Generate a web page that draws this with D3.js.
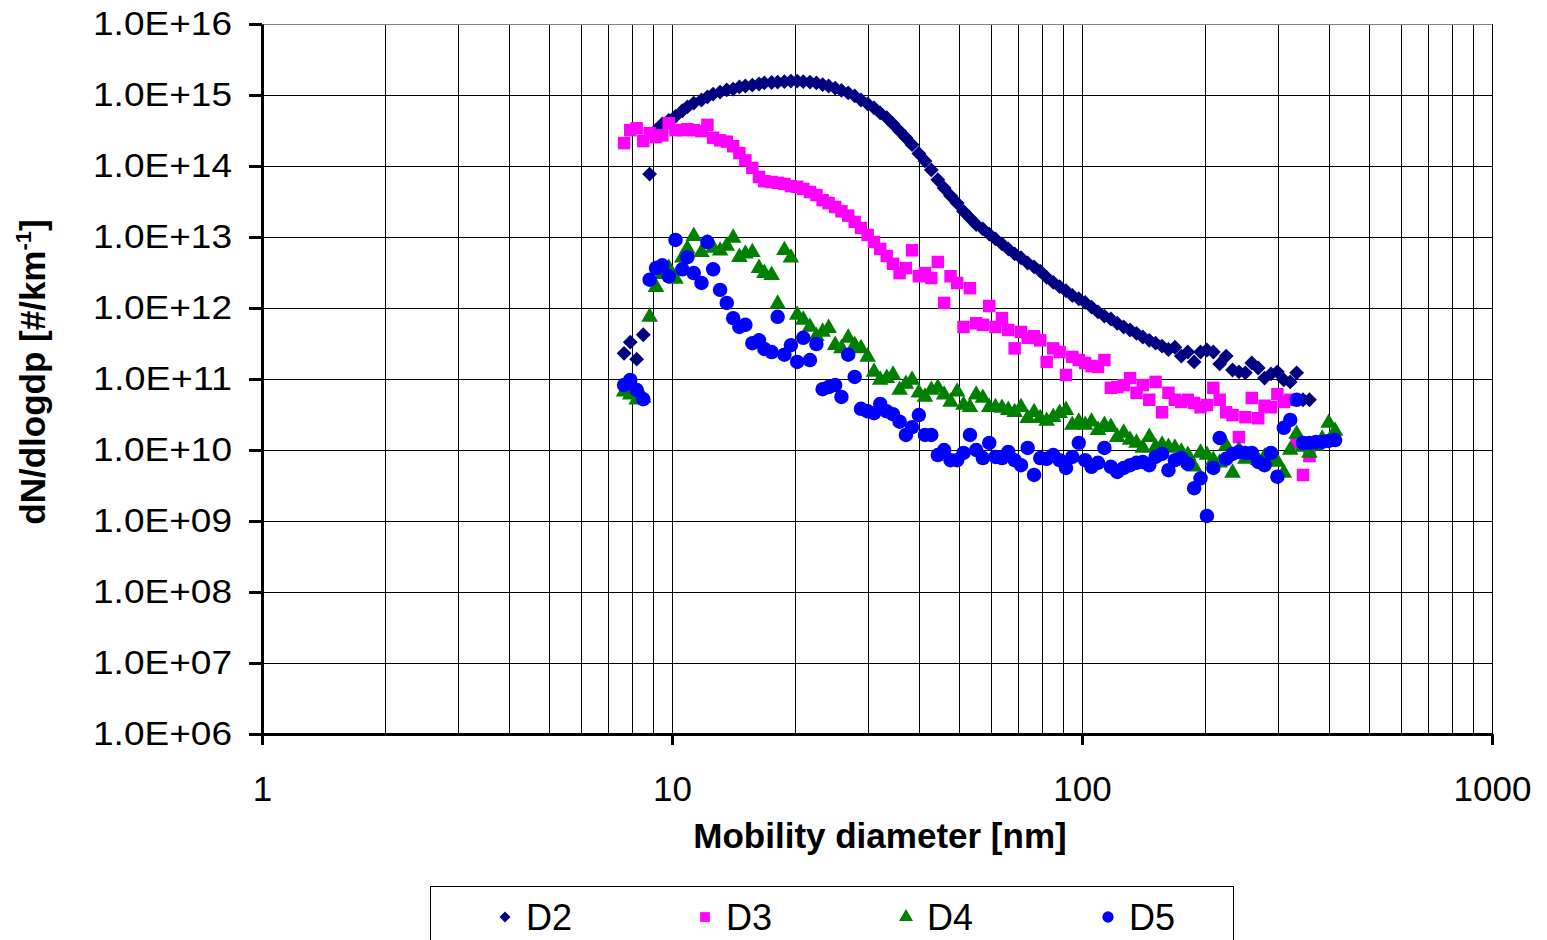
<!DOCTYPE html>
<html>
<head>
<meta charset="utf-8">
<script src="https://cdn.jsdelivr.net/npm/d3@7"></script>
<style>
  body { margin: 0; background: #fff; }
  text { font-family: "Liberation Sans", Arial, sans-serif; fill: #000; }
</style>
</head>
<body>
<svg id="chart" width="1547" height="940"></svg>
<script>
// SMPS channel mid-point diameters [nm]
var diameters = [
  7.64, 7.91, 8.2, 8.51, 8.82, 9.14, 9.47, 9.82, 10.2, 10.6,
  10.9, 11.3, 11.8, 12.2, 12.6, 13.1, 13.6, 14.1, 14.6, 15.1,
  15.7, 16.3, 16.8, 17.5, 18.1, 18.8, 19.5, 20.2, 20.9, 21.7,
  22.5, 23.3, 24.1, 25.0, 25.9, 26.9, 27.9, 28.9, 30.0, 31.1,
  32.2, 33.4, 34.6, 35.9, 37.2, 38.5, 40.0, 41.4, 42.9, 44.5,
  46.1, 47.8, 49.6, 51.4, 53.3, 55.2, 57.3, 59.4, 61.5, 63.8,
  66.1, 68.5, 71.0, 73.7, 76.4, 79.1, 82.0, 85.1, 88.2, 91.4,
  94.7, 98.2, 101.8, 105.5, 109.4, 113.4, 117.6, 121.9, 126.4, 131.0,
  135.8, 140.7, 145.9, 151.2, 156.8, 162.5, 168.5, 174.7, 181.1, 187.7,
  194.6, 201.7, 209.1, 216.7, 224.7, 232.9, 241.4, 250.3, 259.5, 269.0,
  278.8, 289.0, 299.6, 310.6, 322.0, 333.8, 346.0, 358.7, 371.8, 385.4,
  399.5, 414.2
];

var d2 = [
  2.3e11, 3.3e11, 1.9e11, 4.2e11, 7.7e13, 3.2e14, 3.9e14, 4.4e14, 5.0e14, 6.0e14,
  6.8e14, 7.7e14, 8.5e14, 9.4e14, 1.03e15, 1.1e15, 1.18e15, 1.21e15, 1.3e15, 1.34e15,
  1.38e15, 1.43e15, 1.48e15, 1.5e15, 1.52e15, 1.54e15, 1.57e15, 1.57e15, 1.54e15, 1.52e15,
  1.48e15, 1.4e15, 1.34e15, 1.25e15, 1.16e15, 1.07e15, 9.7e14, 8.5e14, 7.5e14, 6.6e14,
  5.6e14, 4.8e14, 3.9e14, 3.1e14, 2.5e14, 2.0e14, 1.5e14, 1.18e14, 8.8e13, 6.4e13,
  4.9e13, 3.8e13, 3.0e13, 2.3e13, 1.85e13, 1.5e13, 1.3e13, 1.1e13, 9.4e12, 8.0e12,
  6.8e12, 5.8e12, 5.1e12, 4.3e12, 3.8e12, 3.3e12, 2.7e12, 2.3e12, 2.0e12, 1.75e12,
  1.5e12, 1.35e12, 1.2e12, 1.03e12, 8.8e11, 7.7e11, 7.0e11, 6.1e11, 5.4e11, 4.9e11,
  4.4e11, 3.9e11, 3.5e11, 3.2e11, 2.9e11, 2.6e11, 2.8e11, 2.1e11, 2.4e11, 1.74e11,
  2.4e11, 2.56e11, 2.4e11, 1.63e11, 2.1e11, 1.34e11, 1.26e11, 1.22e11, 1.68e11, 1.43e11,
  1.03e11, 1.18e11, 1.26e11, 9.7e10, 9.1e10, 1.22e11, 5.1e10, 5.1e10
];

var d3v = [
  2.1e14, 3.2e14, 3.4e14, 2.25e14, 2.9e14, 2.56e14, 2.7e14, 4.0e14, 3.2e14, 3.2e14,
  3.3e14, 3.2e14, 3.1e14, 3.8e14, 2.5e14, 2.3e14, 2.2e14, 1.9e14, 1.52e14, 1.2e14,
  9.4e13, 7.0e13, 6.1e13, 5.95e13, 5.8e13, 5.6e13, 5.2e13, 5.1e13, 4.75e13, 4.3e13,
  3.9e13, 3.3e13, 3.0e13, 2.65e13, 2.3e13, 2.0e13, 1.63e13, 1.34e13, 1.07e13, 8.5e12,
  6.8e12, 5.4e12, 4.2e12, 3.1e12, 3.65e12, 6.5e12, 2.8e12, 3.1e12, 2.65e12, 4.45e12,
  1.18e12, 2.8e12, 2.25e12, 5.4e11, 1.9e12, 6.1e11, 5.8e11, 1.07e12, 5.4e11, 7.2e11,
  4.9e11, 2.7e11, 4.6e11, 3.8e11, 4.0e11, 3.5e11, 1.74e11, 2.7e11, 2.4e11, 1.14e11,
  2.05e11, 1.85e11, 1.68e11, 1.52e11, 1.48e11, 1.85e11, 7.5e10, 7.7e10, 8.2e10, 1.03e11,
  6.4e10, 8.2e10, 5.1e10, 9.1e10, 3.4e10, 6.4e10, 5.1e10, 4.75e10, 5.1e10, 4.6e10,
  4.0e10, 4.3e10, 7.5e10, 5.1e10, 3.4e10, 3.1e10, 1.52e10, 2.9e10, 5.4e10, 2.8e10,
  4.2e10, 4.0e10, 6.1e10, 4.75e10, 5.1e10, 1.26e10, 4.45e9, 8.2e9
];

var d4 = [
  6.6e10, 6.0e10, 5.1e10, 5.4e10, 7.5e11, 1.97e12, 3.0e12, 3.65e12, 2.56e12, 5.1e12,
  6.8e12, 1.03e13, 6.1e12, 8.2e12, 7.0e12, 6.4e12, 7.5e12, 9.7e12, 5.2e12, 5.8e12,
  6.1e12, 3.65e12, 3.1e12, 2.9e12, 1.14e12, 6.5e12, 5.1e12, 8.0e11, 6.8e11, 5.4e11,
  4.0e11, 4.6e11, 5.2e11, 3.0e11, 2.7e11, 3.8e11, 3.0e11, 2.7e11, 2.05e11, 1.26e11,
  9.7e10, 1.03e11, 1.14e11, 7.0e10, 8.5e10, 9.7e10, 6.4e10, 5.6e10, 7.0e10, 7.5e10,
  6.0e10, 4.75e10, 6.6e10, 4.3e10, 4.0e10, 6.0e10, 5.4e10, 4.0e10, 4.0e10, 3.9e10,
  3.65e10, 3.4e10, 4.0e10, 2.8e10, 3.4e10, 2.8e10, 2.56e10, 2.9e10, 3.3e10, 3.65e10,
  2.25e10, 2.5e10, 2.25e10, 2.5e10, 1.9e10, 2.25e10, 2.1e10, 1.52e10, 1.74e10, 1.38e10,
  1.26e10, 1.07e10, 1.52e10, 1.1e10, 1.18e10, 1.1e10, 1.07e10, 9.4e9, 8.5e9, 5.8e9,
  9.1e9, 8.5e9, 7.2e9, 6.6e9, 1.14e10, 4.75e9, 1.0e10, 7.5e9, 7.7e9, 7.2e9,
  8.0e9, 7.0e9, 6.8e9, 4.75e9, 1.0e10, 1.68e10, 1.1e10, 9.1e9, 1.14e10, 1.43e10,
  2.4e10, 1.85e10
];

var d5 = [
  8.2e10, 9.7e10, 7.0e10, 5.2e10, 2.5e12, 3.65e12, 4.0e12, 2.8e12, 9.1e12, 3.5e12,
  5.2e12, 3.1e12, 2.25e12, 8.5e12, 3.5e12, 1.8e12, 1.18e12, 7.2e11, 5.4e11, 5.8e11,
  3.2e11, 3.5e11, 2.65e11, 2.4e11, 7.5e11, 2.2e11, 3.0e11, 1.74e11, 3.8e11, 1.85e11,
  3.1e11, 7.2e10, 7.7e10, 8.2e10, 5.6e10, 2.2e11, 1.07e11, 3.8e10, 3.5e10, 3.3e10,
  4.45e10, 3.5e10, 3.2e10, 2.5e10, 1.63e10, 2.1e10, 3.1e10, 1.63e10, 1.63e10, 8.5e9,
  1.0e10, 7.2e9, 7.2e9, 9.1e9, 1.63e10, 1.0e10, 7.7e9, 1.26e10, 8.0e9, 7.7e9,
  9.4e9, 7.2e9, 6.1e9, 1.07e10, 4.45e9, 7.7e9, 7.5e9, 8.5e9, 7.2e9, 5.6e9,
  8.0e9, 1.26e10, 7.2e9, 5.8e9, 6.6e9, 1.07e10, 5.8e9, 4.9e9, 5.6e9, 6.1e9,
  6.6e9, 6.8e9, 6.1e9, 8.0e9, 8.8e9, 5.2e9, 7.2e9, 7.7e9, 6.4e9, 2.9e9,
  4.0e9, 1.18e9, 5.6e9, 1.48e10, 7.5e9, 8.8e9, 9.4e9, 9.1e9, 9.1e9, 6.8e9,
  6.1e9, 9.1e9, 4.2e9, 2.05e10, 2.65e10, 5.1e10, 1.26e10, 1.26e10, 1.3e10, 1.3e10,
  1.34e10, 1.38e10
];

var seriesNames = ["D2", "D3", "D4", "D5"];
var seriesColors = ["#000080", "#FF00FF", "#008000", "#0000FF"];
var xTicks = [1, 10, 100, 1000];
var yTicks = [1e6, 1e7, 1e8, 1e9, 1e10, 1e11, 1e12, 1e13, 1e14, 1e15, 1e16];

var plotLeft = 262, plotRight = 1492, plotTop = 24, plotBottom = 734;

var svg = d3.select("#chart");

var x = d3.scaleLog().domain([1, 1000]).range([plotLeft, plotRight]);
var y = d3.scaleLog().domain([1e6, 1e16]).range([plotBottom, plotTop]);

var crisp = function(v) { return Math.round(v) + 0.5; };

// vertical grid: every 1..9 x 10^n
var xGrid = [];
[1, 10, 100].forEach(function(dec) {
  for (var m = 1; m <= 9; m++) xGrid.push(m * dec);
});
xGrid.push(1000);

var grid = svg.append("g");
grid.selectAll("line.vg")
    .data(xGrid.filter(function(d) { return d > 1; }))
  .enter().append("line")
    .attr("x1", function(d) { return crisp(x(d)); })
    .attr("x2", function(d) { return crisp(x(d)); })
    .attr("y1", plotTop)
    .attr("y2", plotBottom)
    .attr("stroke", "#000")
    .attr("stroke-width", 1);

grid.selectAll("line.hg")
    .data(yTicks.filter(function(d) { return d > 1e6; }))
  .enter().append("line")
    .attr("x1", plotLeft)
    .attr("x2", plotRight)
    .attr("y1", function(d) { return crisp(y(d)); })
    .attr("y2", function(d) { return crisp(y(d)); })
    .attr("stroke", function(d) { return d === 1e16 ? "#808080" : "#000"; })
    .attr("stroke-width", 1);

// marker shapes
var shapes = [
  { type: d3.symbolSquare, size: 110, rotate: 45 },  // diamond
  { type: d3.symbolSquare, size: 155, rotate: 0 },   // square
  { type: d3.symbolTriangle, size: 120, rotate: 0 }, // triangle
  { type: d3.symbolCircle, size: 165, rotate: 0 }    // circle
];
var legendShapes = [
  { type: d3.symbolSquare, size: 60, rotate: 45 },
  { type: d3.symbolSquare, size: 95, rotate: 0 },
  { type: d3.symbolTriangle, size: 85, rotate: 0 },
  { type: d3.symbolCircle, size: 100, rotate: 0 }
];

var allSeries = [d2, d3v, d4, d5];

allSeries.forEach(function(vals, s) {
  var pts = vals.map(function(v, i) { return { d: diameters[i], v: v }; });
  var sym = d3.symbol().type(shapes[s].type).size(shapes[s].size);
  svg.append("g").selectAll("path")
      .data(pts)
    .enter().append("path")
      .attr("d", sym)
      .attr("fill", seriesColors[s])
      .attr("transform", function(p) {
        return "translate(" + x(p.d) + "," + y(p.v) + ") rotate(" + shapes[s].rotate + ")";
      });
});

// axes
var fmtE = function(v) {
  var e = Math.round(Math.log10(v));
  return "1.0E+" + (e < 10 ? "0" + e : e);
};

var yAxis = svg.append("g")
    .attr("transform", "translate(" + plotLeft + ",0)")
    .call(d3.axisLeft(y).tickValues(yTicks).tickFormat(fmtE).tickSize(13).tickSizeOuter(0).tickPadding(17));
yAxis.select(".domain").attr("stroke", "#000").attr("stroke-width", 3);
yAxis.selectAll(".tick line").attr("stroke", "#000").attr("stroke-width", 3);
yAxis.selectAll(".tick text")
    .attr("font-size", 34)
    .attr("font-family", "Liberation Sans, Arial, sans-serif")
    .attr("textLength", 139)
    .attr("lengthAdjust", "spacingAndGlyphs");

var xAxis = svg.append("g")
    .attr("transform", "translate(0," + plotBottom + ")")
    .call(d3.axisBottom(x).tickValues(xTicks).tickFormat(d3.format("d")).tickSize(11).tickSizeOuter(0).tickPadding(31));
xAxis.select(".domain").attr("stroke", "#000").attr("stroke-width", 3);
xAxis.selectAll(".tick line").attr("stroke", "#000").attr("stroke-width", 3);
xAxis.selectAll(".tick text")
    .attr("font-size", 35)
    .attr("font-family", "Liberation Sans, Arial, sans-serif");

// axis titles
svg.append("text")
    .attr("x", 880)
    .attr("y", 848)
    .attr("text-anchor", "middle")
    .attr("font-size", 35)
    .attr("font-weight", "bold")
    .text("Mobility diameter [nm]");

var yTitle = svg.append("text")
    .attr("transform", "translate(45,372) rotate(-90)")
    .attr("text-anchor", "middle")
    .attr("font-size", 35)
    .attr("font-weight", "bold");
yTitle.append("tspan").text("dN/dlogdp [#/km");
yTitle.append("tspan").attr("font-size", 22).attr("dy", -14).text("-1");
yTitle.append("tspan").attr("dy", 14).text("]");

// legend
svg.append("rect")
    .attr("x", 430.5)
    .attr("y", 886.5)
    .attr("width", 803)
    .attr("height", 80)
    .attr("fill", "#fff")
    .attr("stroke", "#000")
    .attr("stroke-width", 1);

var legendX = [505, 705, 906, 1108];
seriesNames.forEach(function(name, s) {
  var sym = d3.symbol().type(legendShapes[s].type).size(legendShapes[s].size);
  svg.append("path")
      .attr("d", sym)
      .attr("fill", seriesColors[s])
      .attr("transform", "translate(" + legendX[s] + ",917) rotate(" + legendShapes[s].rotate + ")");
  svg.append("text")
      .attr("x", legendX[s] + 21)
      .attr("y", 930)
      .attr("font-size", 36)
      .text(name);
});
</script>
</body>
</html>
